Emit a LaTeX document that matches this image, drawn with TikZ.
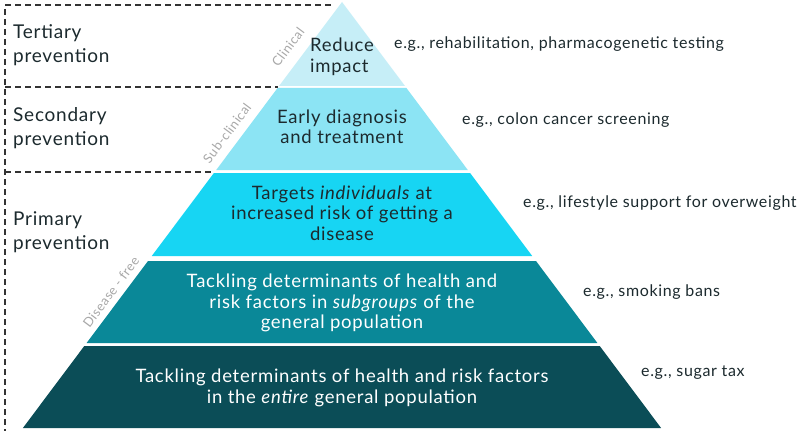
\documentclass[tikz,border=0pt]{standalone}
\usepackage{fontspec}
\setmainfont{Lato}[LetterSpace=4]
\definecolor{tA}{HTML}{C6EEF7}
\definecolor{tB}{HTML}{8CE4F4}
\definecolor{tC}{HTML}{17D5F3}
\definecolor{tD}{HTML}{0A8898}
\definecolor{tE}{HTML}{0B4D57}
\definecolor{ink}{HTML}{1C2A2E}
\definecolor{side}{HTML}{A8A8A8}
\definecolor{dash}{HTML}{333333}
\tikzset{
  lbl/.style={font=\fontsize{19}{24}\selectfont, text=ink, align=left, anchor=west, inner sep=0pt},
  ctr/.style={font=\fontsize{18.5}{20.5}\selectfont, align=center, inner sep=0pt},
  eg/.style={font=\fontsize{16}{20}\selectfont, text=ink, anchor=west, inner sep=0pt},
  sidelbl/.style={font=\fontsize{13}{14}\selectfont, text=side, rotate=53.2, inner sep=0pt},
  dline/.style={draw=dash, line width=1.9pt, dash pattern=on 6pt off 4pt}
}
\begin{document}
\begin{tikzpicture}[x=1pt,y=-1pt]
\useasboundingbox (0,0) rectangle (800,433);
\fill[white] (0,0) rectangle (800,433);
% tiers: half width w(y) = (y-2)*0.749, apex x = 342
\fill[tA] (342,2) -- (342+63,86) -- (342-63,86) -- cycle;
\fill[tB] (342-64.4,88) -- (342+64.4,88) -- (342+125.8,170) -- (342-125.8,170) -- cycle;
\fill[tC] (342-128.1,173) -- (342+128.1,173) -- (342+190.2,256) -- (342-190.2,256) -- cycle;
\fill[tD] (342-194,261) -- (342+194,261) -- (342+255.4,343) -- (342-255.4,343) -- cycle;
\fill[tE] (342-257.7,346) -- (342+257.7,346) -- (342+319.1,428) -- (342-319.1,428) -- cycle;
% dashed frame
\coordinate (f0) at (5,5);
\coordinate (f1) at (331,5);
\coordinate (f2) at (5,87);
\coordinate (f3) at (278,87);
\coordinate (f4) at (5,172);
\coordinate (f5) at (214,172);
\coordinate (f6) at (5,431);
\draw[dline] (f1) -- (f0) -- (f6);
\draw[dline] (f2) -- (f3);
\draw[dline] (f4) -- (f5);
% left labels
\node[lbl] (tert) at (13,45) {Tertiary\\prevention};
\node[lbl] (sec) at (13,128) {Secondary\\prevention};
\node[lbl] (prim) at (13,232) {Primary\\prevention};
% side labels
\node[sidelbl] (clin) at (288,47) {Clinical};
\node[sidelbl] (sub) at (227,133) {Sub-clinical};
\node[sidelbl] (free) at (111,292) {Disease - free};
% centre texts
\node[ctr, text=ink, align=left, anchor=west] (c1) at (310,57) {Reduce\\impact};
\node[ctr, text=ink] (c2) at (342,127) {Early diagnosis\\and treatment};
\node[ctr, text=ink] (c3) at (342,213) {Targets \textit{individuals} at\\increased risk of getting a\\disease};
\node[ctr, text=white] (c4) at (342,303) {Tackling determinants of health and\\risk factors in \textit{subgroups} of the\\general population};
\node[ctr, text=white] (c5) at (342,388) {Tackling determinants of health and risk factors\\in the \textit{entire} general population};
% examples
\node[eg] (e1) at (394,44) {e.g., rehabilitation, pharmacogenetic testing};
\node[eg] (e2) at (462,120) {e.g., colon cancer screening};
\node[eg] (e3) at (523,203) {e.g., lifestyle support for overweight};
\node[eg] (e4) at (583,292) {e.g., smoking bans};
\node[eg] (e5) at (641,373) {e.g., sugar tax};
\end{tikzpicture}
\end{document}
